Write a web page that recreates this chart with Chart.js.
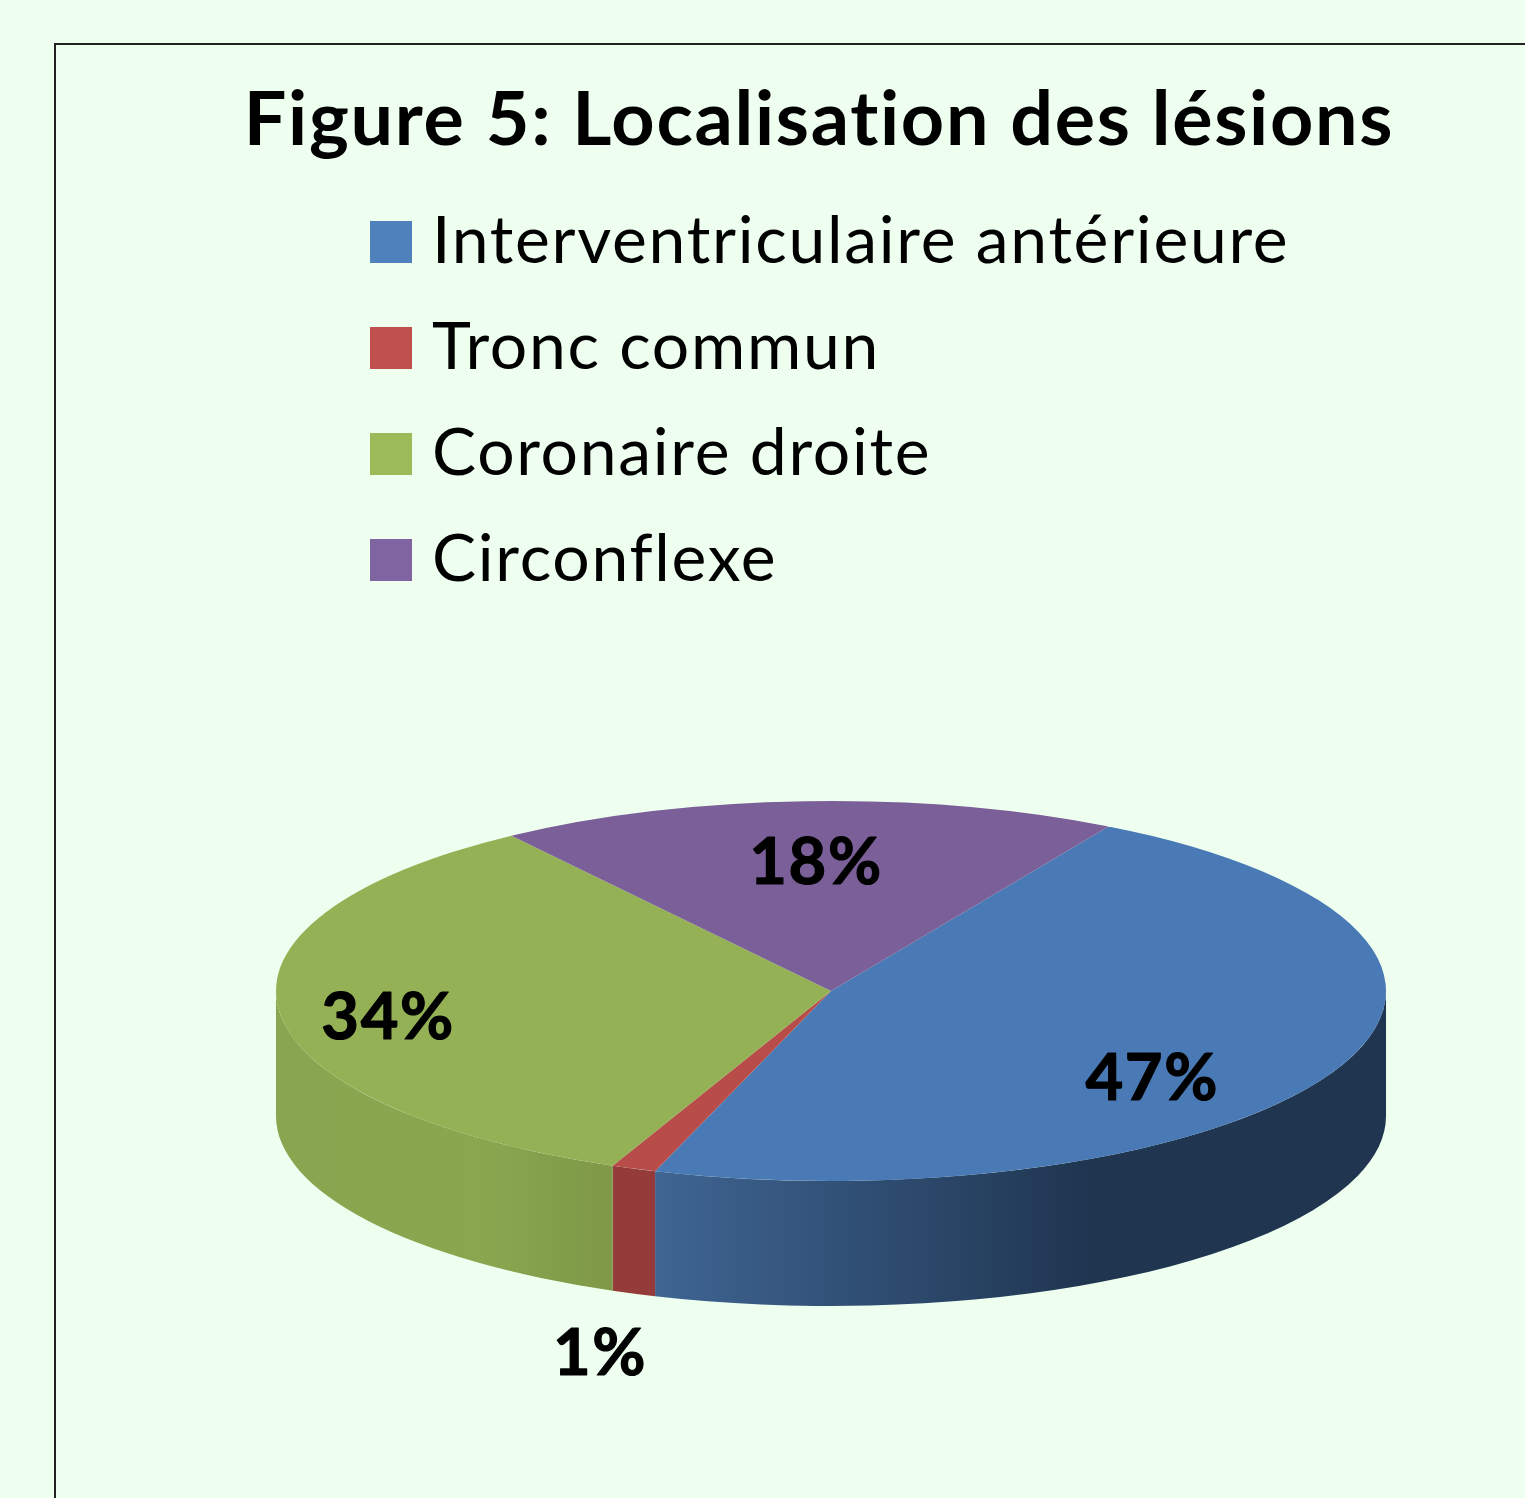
<!DOCTYPE html>
<html><head><meta charset="utf-8">
<style>html,body{margin:0;padding:0;background:#EEFFF0;overflow:hidden}canvas{display:block}</style>
<script src="https://cdn.jsdelivr.net/npm/chart.js@4/dist/chart.umd.js"></script>
</head><body>
<canvas id="c" width="1525" height="1498" style="width:1525px;height:1498px"></canvas>
<script>
const titleText = 'Figure 5: Localisation des lésions';
const categories = ['Interventriculaire antérieure', 'Tronc commun', 'Coronaire droite', 'Circonflexe'];
const values = [46.8, 1.3, 33.8, 18.1];
const legendColors = ['#4F81BD', '#C0504D', '#9BBB59', '#8064A2'];
const topColors = ['#4A7AB5', '#B84C49', '#95B155', '#7B5F98'];
const wallStops = [
  [[0.0, '#3F6593'], [0.6, '#1F3550'], [1, '#1F3550']],
  [[0, '#953C3B'], [1, '#953C3B']],
  [[0, '#88A64F'], [0.6, '#8AA750'], [1, '#7E9847']],
  [[0, '#6A5080'], [1, '#6A5080']]
];
const FONT = 'Lato';
const TITLE_SIZE = 75.5, LEGEND_SIZE = 66, LABEL_SIZE = 65, TEXT_SPACING = '1.7px';
const SQUASH = 190 / 555, DEPTH = 125;
// label centres relative to pie centre, as fractions of the radius
const labelOffsets = [[0.579, 0.159], [-0.416, 0.654], [-0.798, 0.048], [-0.027, -0.231]];

const pie3d = {
  id: 'pie3d',
  beforeDraw(chart) {
    const c = chart.ctx;
    c.letterSpacing = TEXT_SPACING;
    c.save();
    c.strokeStyle = '#222'; c.lineWidth = 2;
    c.beginPath(); c.moveTo(55, 1498); c.lineTo(55, 44); c.lineTo(1525, 44); c.stroke();
    c.restore();
    const lg = chart.legend;
    lg.left = 343; lg.right = 1500; lg.top = 169; lg.bottom = 1400;
    const t = chart.titleBlock;
    t.left = 0; t.right = 1638; t.top = 75; t.bottom = 75 + TITLE_SIZE * 1.2;
  },
  beforeDatasetsDraw(chart) {
    const c = chart.ctx;
    const arcs = chart.getDatasetMeta(0).data;
    const a0 = arcs[0], cx = a0.x, cy = a0.y, r = a0.outerRadius, ry = r * SQUASH;
    arcs.forEach((a, i) => {
      // split each slice by the visible front half (canvas angles 0..PI)
      const s = a.startAngle, e = a.endAngle, TAU = Math.PI * 2;
      for (const k of [-1, 0, 1]) {
        const from = Math.max(s, k * TAU), to = Math.min(e, k * TAU + Math.PI);
        if (to <= from) continue;
        const x1 = cx + r * Math.cos(from), x2 = cx + r * Math.cos(to);
        const g = c.createLinearGradient(Math.min(x1, x2), 0, Math.max(x1, x2), 0);
        wallStops[i].forEach(([p, col]) => g.addColorStop(p, col));
        c.save();
        c.fillStyle = g;
        c.beginPath();
        c.ellipse(cx, cy, r, ry, 0, from, to, false);
        c.ellipse(cx, cy + DEPTH, r, ry, 0, to, from, true);
        c.closePath();
        c.fill();
        c.restore();
      }
    });
    c.save();
    c.translate(cx, cy);
    c.scale(1, SQUASH);
    c.translate(-cx, -cy);
  },
  afterDatasetsDraw(chart) {
    const c = chart.ctx;
    c.restore();
    const a0 = chart.getDatasetMeta(0).data[0];
    c.save();
    c.fillStyle = '#000'; c.strokeStyle = '#000'; c.lineWidth = 1.2; c.lineJoin = 'round';
    c.font = 'bold ' + LABEL_SIZE + 'px ' + FONT;
    c.textAlign = 'center'; c.textBaseline = 'middle';
    values.forEach((v, i) => {
      const s = Math.round(v) + '%';
      const x = a0.x + labelOffsets[i][0] * a0.outerRadius, y = a0.y + labelOffsets[i][1] * a0.outerRadius;
      c.fillText(s, x, y);
      c.strokeText(s, x, y);
    });
    c.restore();
  }
};

new Chart(document.getElementById('c'), {
  type: 'pie',
  plugins: [pie3d],
  data: { labels: categories, datasets: [{ data: values, backgroundColor: topColors, borderWidth: 0, clip: false, hoverOffset: 0 }] },
  options: {
    responsive: false, animation: false, rotation: 30, radius: 555,
    layout: { padding: { left: 137, top: 484 - TITLE_SIZE * 1.2, right: 0, bottom: 0 } },
    events: [],
    plugins: {
      tooltip: { enabled: false },
      title: { display: true, text: titleText, color: '#000', padding: 0,
        font: { family: FONT, size: TITLE_SIZE, weight: 'bold', lineHeight: 1.2 } },
      legend: { display: true, position: 'chartArea', align: 'start',
        labels: { boxWidth: 16, boxHeight: 16, padding: 40, color: '#000',
          font: { family: FONT, size: LEGEND_SIZE },
          generateLabels: () => categories.map((t, i) => ({ text: t, fillStyle: legendColors[i], strokeStyle: legendColors[i], lineWidth: 26, lineJoin: 'miter', hidden: false, index: i })) } }
    }
  }
});
</script>
</body></html>
